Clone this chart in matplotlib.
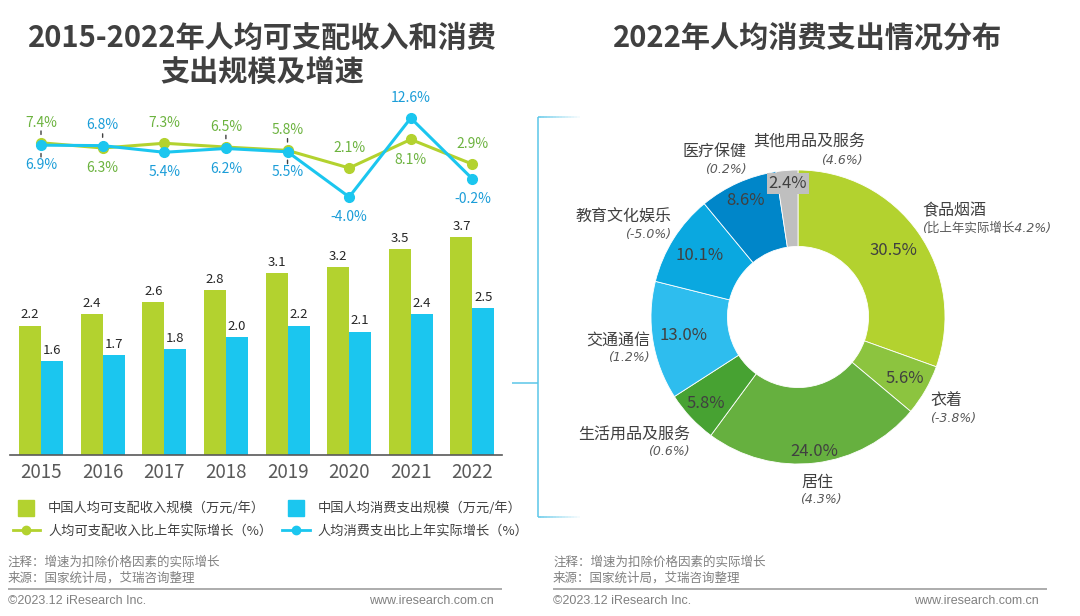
import matplotlib.pyplot as plt
from matplotlib.lines import Line2D
import numpy as np

plt.rcParams['font.family'] = ['Noto Sans CJK SC', 'DejaVu Sans']

# left chart data
years = ['2015', '2016', '2017', '2018', '2019', '2020', '2021', '2022']
income = [2.2, 2.4, 2.6, 2.8, 3.1, 3.2, 3.5, 3.7]
spending = [1.6, 1.7, 1.8, 2.0, 2.2, 2.1, 2.4, 2.5]
income_growth = [7.4, 6.3, 7.3, 6.5, 5.8, 2.1, 8.1, 2.9]
spending_growth = [6.9, 6.8, 5.4, 6.2, 5.5, -4.0, 12.6, -0.2]

# right chart data
categories = ['食品烟酒', '衣着', '居住', '生活用品及服务', '交通通信', '教育文化娱乐', '医疗保健', '其他用品及服务']
shares = [30.5, 5.6, 24.0, 5.8, 13.0, 10.1, 8.6, 2.4]
category_growth = ['(比上年实际增长4.2%)', '(-3.8%)', '(4.3%)', '(0.6%)', '(1.2%)', '(-5.0%)', '(0.2%)', '(4.6%)']

GREEN = '#b3d22f'
BLUE = '#1bc6ef'
GREEN_TXT = '#6cb33f'
BLUE_TXT = '#1b9dd8'
DARK = '#404040'
GREY = '#808080'
pie_colors = ['#b3d22f', '#8cc43f', '#66b03f', '#47a232', '#2ebdee', '#0aa8e0', '#0086c9', '#bfbfbf']

# label placement (style only)
income_side = [1, -1, 1, 1, 1, 1, -1, 1]
spending_side = [-1, 1, -1, -1, -1, -1, 1, -1]
income_leader = [1, 0, 0, 1, 1, 0, 0, 0]
spending_leader = [1, 1, 0, 0, 1, 0, 0, 0]
pct_radius = [0.79, 0.84, 0.92, 0.86, 0.79, 0.79, 0.87, 0.91]
name_style = [(4, -22, 'left'), (5, 10, 'left'), (2, 20, 'center'), (-1, 17, 'right'),
              (-3, -1, 'right'), (-2, -21, 'right'), (9, -31, 'right'), (-34, -28, 'left')]
note_style = [(4, -4, 'left'), (5, 28, 'left'), (5, 37, 'center'), (-1, 34, 'right'),
              (-3, 17, 'right'), (-2, -4, 'right'), (9, -13, 'right'), (76, -10, 'right')]

W, H = 1080, 616


def fx(x):
    return x / W


def fy(y):
    return 1 - y / H


def fig_line(x0, y0, x1, y1, color, lw, alpha=1.0):
    fig.add_artist(Line2D([fx(x0), fx(x1)], [fy(y0), fy(y1)], transform=fig.transFigure,
                          color=color, lw=lw, alpha=alpha, solid_capstyle='butt'))


fig = plt.figure(figsize=(W / 100, H / 100), dpi=100)
fig.patch.set_facecolor('white')

# titles
fig.text(fx(262), fy(38), '2015-2022年人均可支配收入和消费', ha='center', va='center',
         fontsize=21, fontweight='bold', color=DARK)
fig.text(fx(262), fy(72), '支出规模及增速', ha='center', va='center',
         fontsize=21, fontweight='bold', color=DARK)
fig.text(fx(808), fy(38), '2022年人均消费支出情况分布', ha='center', va='center',
         fontsize=21, fontweight='bold', color=DARK)

# bars
x = np.arange(len(years))
w = 0.357
ax_bar = fig.add_axes([fx(10), fy(455), 492 / W, (455 - 208) / H])
ax_bar.bar(x - w / 2, income, w, color=GREEN)
ax_bar.bar(x + w / 2, spending, w, color=BLUE)
for xi, v in zip(x - w / 2, income):
    ax_bar.annotate(f'{v:.1f}', (xi, v), xytext=(0, 3), textcoords='offset points',
                    ha='center', va='bottom', fontsize=9.5, color='#262626')
for xi, v in zip(x + w / 2, spending):
    ax_bar.annotate(f'{v:.1f}', (xi, v), xytext=(0, 3), textcoords='offset points',
                    ha='center', va='bottom', fontsize=9.5, color='#262626')
ax_bar.set_xlim(-0.503, 7.48)
ax_bar.set_ylim(0, 4.2)
ax_bar.set_xticks(x)
ax_bar.set_xticklabels(years)
ax_bar.set_yticks([])
ax_bar.tick_params(axis='x', length=0, labelsize=13.5, labelcolor='#595959', pad=5)
for s in ['top', 'right', 'left']:
    ax_bar.spines[s].set_visible(False)
ax_bar.spines['bottom'].set_color('#595959')
ax_bar.spines['bottom'].set_linewidth(1.2)
ax_bar.patch.set_alpha(0)

# growth lines
ax_line = fig.add_axes([fx(10), fy(225), 492 / W, 125 / H])
ax_line.set_xlim(-0.503, 7.48)
ax_line.set_ylim(-9.9, 16.4)
ax_line.axis('off')
ax_line.plot(x, income_growth, color=GREEN, lw=2.2, marker='o', ms=7)
ax_line.plot(x, spending_growth, color=BLUE, lw=2.2, marker='o', ms=7)
for vals, sides, leads, col in [(income_growth, income_side, income_leader, GREEN_TXT),
                                (spending_growth, spending_side, spending_leader, BLUE_TXT)]:
    for xi, v, s, ld in zip(x, vals, sides, leads):
        ax_line.annotate(f'{v:.1f}%', (xi, v), xytext=(0, 14.5 * s), textcoords='offset points',
                         ha='center', va='center', fontsize=10, color=col)
        if ld:
            # small leader tick between the point and its label
            ax_line.annotate('', xy=(xi, v), xytext=(0, 8.5 * s), textcoords='offset points',
                             arrowprops=dict(arrowstyle='-', color='#404040', lw=1,
                                             shrinkA=0, shrinkB=6))

# legend
handles = [
    Line2D([], [], marker='s', ms=12, ls='none', color=GREEN),
    Line2D([], [], marker='o', ms=6, lw=2, color=GREEN),
    Line2D([], [], marker='s', ms=12, ls='none', color=BLUE),
    Line2D([], [], marker='o', ms=6, lw=2, color=BLUE),
]
labels = ['中国人均可支配收入规模（万元/年）', '人均可支配收入比上年实际增长（%）',
          '中国人均消费支出规模（万元/年）', '人均消费支出比上年实际增长（%）']
fig.legend(handles, labels, ncol=2, loc='upper left', bbox_to_anchor=(fx(6), fy(495)),
           frameon=False, fontsize=9.5, labelcolor=DARK, handlelength=2.1,
           handletextpad=0.6, columnspacing=0.75, labelspacing=0.75, borderpad=0)

# donut
ax_pie = fig.add_axes([fx(598), fy(517), 400 / W, 400 / H])
wedges, _ = ax_pie.pie(shares, colors=pie_colors, startangle=90, counterclock=False, radius=1,
                       wedgeprops=dict(width=0.52, edgecolor='white', linewidth=0.6))
lim = 200 / 147
ax_pie.set_xlim(-lim, lim)
ax_pie.set_ylim(-lim, lim)
ax_pie.set_aspect('auto')
ax_pie.axis('off')
for i, wd in enumerate(wedges):
    th = np.deg2rad((wd.theta1 + wd.theta2) / 2)
    cx, cy = np.cos(th), np.sin(th)
    r = pct_radius[i]
    box = dict(boxstyle='square,pad=0.1', fc='#bfbfbf', ec='none') if i == 7 else None
    ax_pie.text(r * cx, r * cy, f'{shares[i]:.1f}%', ha='center', va='center',
                fontsize=12, color=DARK, bbox=box)
    dx, dy, ha = name_style[i]
    ax_pie.annotate(categories[i], (cx, cy), xytext=(dx * 0.72, -dy * 0.72),
                    textcoords='offset points', ha=ha, va='center', fontsize=11.5, color=DARK)
    dx, dy, ha = note_style[i]
    ax_pie.annotate(category_growth[i], (cx, cy), xytext=(dx * 0.72, -dy * 0.72),
                    textcoords='offset points', ha=ha, va='center', fontsize=9,
                    color='#595959', style='italic', family=['DejaVu Sans', 'Noto Sans CJK SC'])

# bracket linking the 2022 bars to the donut
BR = '#5bc6e8'
fig_line(538, 117, 538, 517, BR, 1.1)
fig_line(512, 383, 538, 383, BR, 1.1)
for k in range(14):
    a = 1 - k / 14
    fig_line(538 + k * 3, 117, 538 + (k + 1) * 3, 117, BR, 1.1, a)
    fig_line(538 + k * 3, 517, 538 + (k + 1) * 3, 517, BR, 1.1, a)

# footers
for x0, x1 in [(8, 502), (553, 1047)]:
    fig.text(fx(x0), fy(562), '注释：增速为扣除价格因素的实际增长', ha='left', va='center',
             fontsize=9, color=GREY)
    fig.text(fx(x0), fy(578), '来源：国家统计局，艾瑞咨询整理', ha='left', va='center',
             fontsize=9, color=GREY)
    fig_line(x0, 589, x1, 589, '#a6a6a6', 1.3)
    fig.text(fx(x0), fy(601), '©2023.12 iResearch Inc.', ha='left', va='center',
             fontsize=9, color=GREY, family='Liberation Sans')
    fig.text(fx(x1 - 8), fy(601), 'www.iresearch.com.cn', ha='right', va='center',
             fontsize=9, color=GREY, family='Liberation Sans')

fig.savefig('out.png', dpi=100, facecolor='white')
